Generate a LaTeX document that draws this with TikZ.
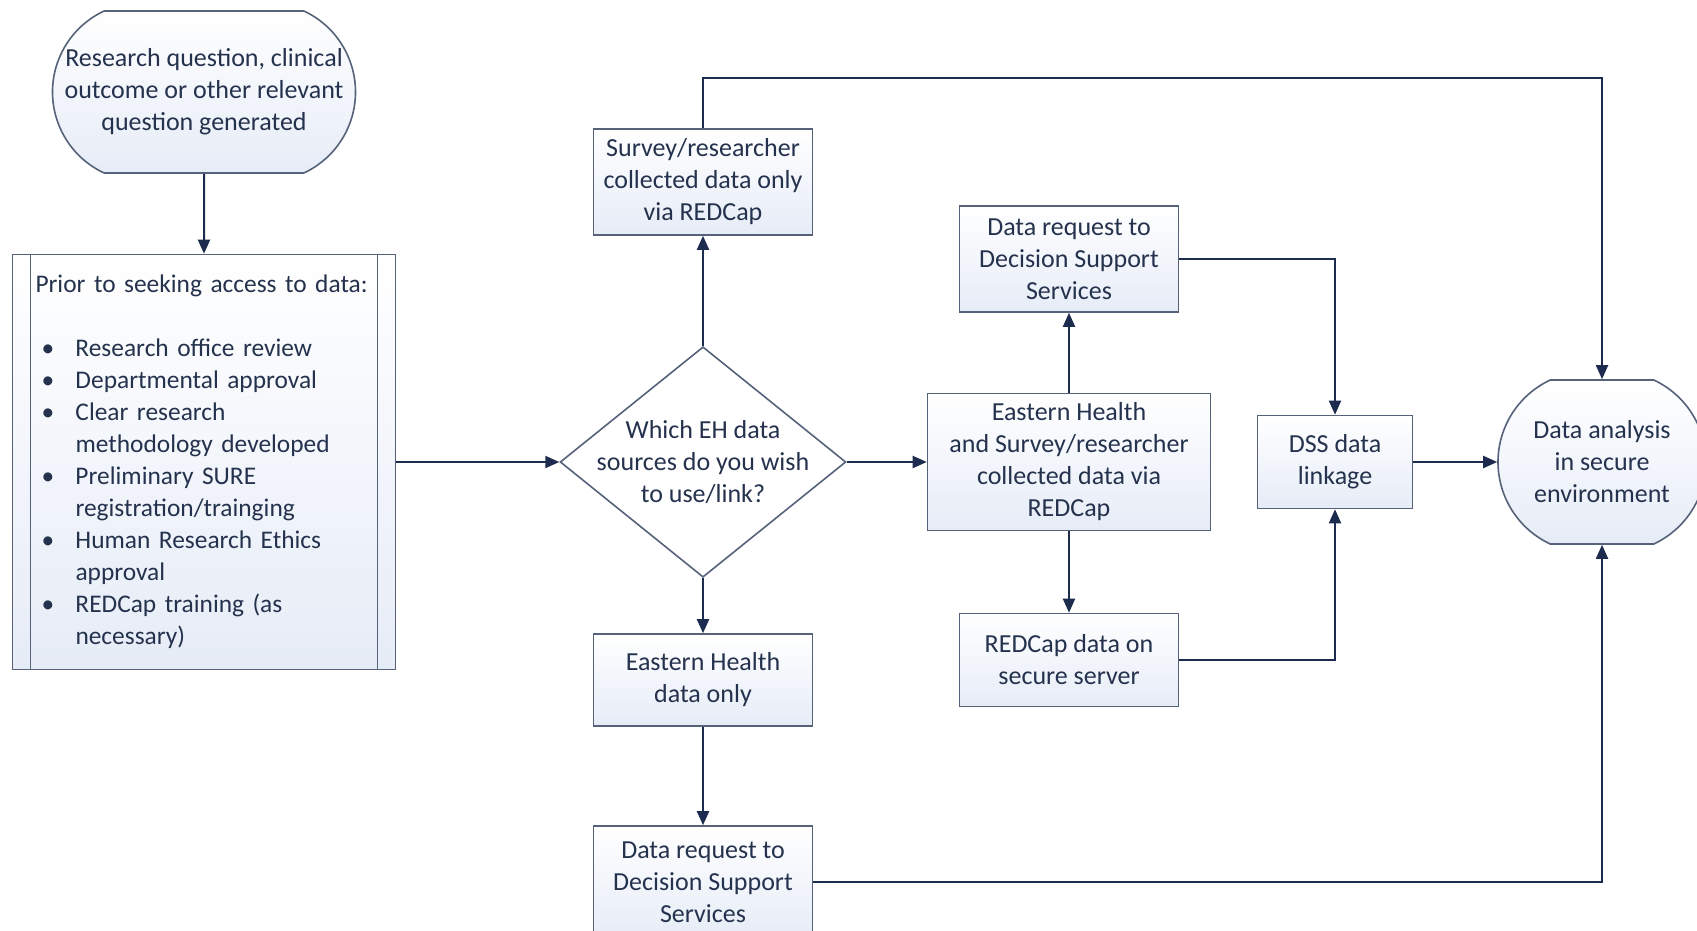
\documentclass[tikz,border=0pt]{standalone}
\usepackage{fontspec}
\setmainfont{Carlito}
\usetikzlibrary{positioning, arrows.meta, shapes.geometric, shapes.misc}

\definecolor{linecol}{HTML}{1C2B4E}
\definecolor{boxcol}{HTML}{56627A}
\definecolor{textcol}{HTML}{25324D}
\definecolor{fillcol}{HTML}{E6ECF7}

\tikzset{
	base/.style={text=textcol, font=\fontsize{13}{16}\selectfont, align=center, inner sep=2pt},
	box/.style={base, draw=boxcol, line width=0.8pt, top color=white, bottom color=fillcol},
	term/.style={box, rounded rectangle, rounded rectangle arc length=130},
	decision/.style={base, diamond, aspect=1.24, inner xsep=-4pt, inner ysep=-2.8pt, draw=boxcol, line width=0.8pt, fill=white},
	predef/.style={box, font=\fontsize{12.7}{16}\selectfont, path picture={
		\draw[boxcol, line width=0.8pt]
			([xshift=9pt]path picture bounding box.north west) -- ([xshift=9pt]path picture bounding box.south west)
			([xshift=-9pt]path picture bounding box.north east) -- ([xshift=-9pt]path picture bounding box.south east);}},
	>={Triangle[length=7pt, width=6pt]}
}

\newcommand{\bul}{\makebox[20pt][l]{\hspace{3pt}\textbullet}}
\newcommand{\cont}{\hspace*{20pt}}

\begin{document}
\begin{tikzpicture}[x=0.5pt, y=-0.5pt, node distance=1cm, on grid, line width=1pt, draw=linecol]
	\useasboundingbox (0,0) rectangle (1697,931);

	\node[term, minimum width=155.5pt, minimum height=81pt] (start) at (204,92) {Research question, clinical\\outcome or other relevant\\question generated};
	\node[predef, below=185pt of start, minimum width=191.5pt, minimum height=207.5pt, text width=168.5pt, inner xsep=11.5pt, align=left] (prior) {\mbox{Prior to seeking access to data:}\\[16pt]
		\bul Research office review\\
		\bul Departmental approval\\
		\bul Clear research\\
		\cont methodology developed\\
		\bul Preliminary SURE\\
		\cont registration/trainging\\
		\bul Human Research Ethics\\
		\cont approval\\
		\bul REDCap training (as\\
		\cont necessary)};
	\node[decision, right=249.5pt of prior, minimum width=141.5pt, minimum height=114pt] (which) {Which EH data\\sources do you wish\\to use/link?};
	\node[box, above=140pt of which, minimum width=109.5pt, minimum height=53pt] (survey) {Survey/researcher\\collected data only\\via REDCap};
	\node[box, below=109pt of which, minimum width=109.5pt, minimum height=46pt] (ehonly) {Eastern Health\\data only};
	\node[box, below=101pt of ehonly, minimum width=109.5pt, minimum height=56pt] (dssreq) {Data request to\\Decision Support\\Services};
	\node[box, right=183pt of which, minimum width=141.5pt, minimum height=68.5pt] (both) {Eastern Health\\and Survey/researcher\\collected data via\\REDCap};
	\node[box, above=101.5pt of both, minimum width=109.5pt, minimum height=53pt] (dsstop) {Data request to\\Decision Support\\Services};
	\node[box, below=99pt of both, minimum width=109.5pt, minimum height=46.5pt] (redcap) {REDCap data on\\secure server};
	\node[box, right=133pt of both, minimum width=77.5pt, minimum height=46.5pt] (linkage) {DSS data\\linkage};
	\node[term, right=133.5pt of linkage, minimum width=108pt, minimum height=82pt] (analysis) {Data analysis\\in secure\\environment};

	\draw [->, linecol]
		(start) edge (prior)
		(prior) edge (which)
		(which) edge (survey)
		(which) edge (ehonly)
		(ehonly) edge (dssreq)
		(which) edge (both)
		(both) edge (dsstop)
		(both) edge (redcap)
		(linkage) edge (analysis)
		;
	\draw [->, linecol] (dsstop) -| (linkage);
	\draw [->, linecol] (redcap) -| (linkage);
	\draw [->, linecol] (dssreq) -| (analysis);
	\draw [->, linecol] (survey.north) -- ++(0,-50) -| (analysis);
\end{tikzpicture}
\end{document}
